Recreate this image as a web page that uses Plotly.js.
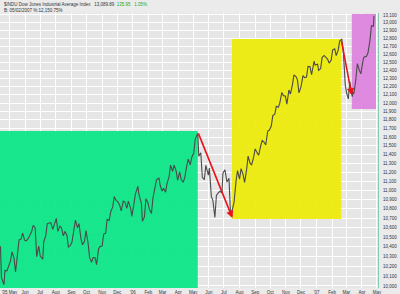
<!DOCTYPE html>
<html>
<head>
<meta charset="utf-8">
<script src="https://cdn.plot.ly/plotly-3.0.1.min.js"></script>
<style>html,body{margin:0;padding:0;background:#ebebeb;}#chart{width:400px;height:294px;}</style>
</head>
<body>
<div id="chart"></div>
<script>
// Dow Jones Industrial Average, approximate closes
const dates = [
 '2005-04-13','2005-04-15','2005-04-20','2005-04-22','2005-04-26','2005-04-29',
 '2005-05-03','2005-05-06','2005-05-10','2005-05-13','2005-05-17','2005-05-20','2005-05-24','2005-05-27','2005-05-31',
 '2005-06-03','2005-06-07','2005-06-10','2005-06-14','2005-06-17','2005-06-21','2005-06-24','2005-06-28',
 '2005-07-01','2005-07-06','2005-07-08','2005-07-12','2005-07-15','2005-07-19','2005-07-22','2005-07-26','2005-07-29',
 '2005-08-02','2005-08-05','2005-08-09','2005-08-12','2005-08-16','2005-08-19','2005-08-23','2005-08-26','2005-08-30',
 '2005-09-02','2005-09-07','2005-09-09','2005-09-13','2005-09-16','2005-09-20','2005-09-23','2005-09-27','2005-09-30',
 '2005-10-04','2005-10-07','2005-10-11','2005-10-14','2005-10-18','2005-10-21','2005-10-25','2005-10-28',
 '2005-11-01','2005-11-04','2005-11-08','2005-11-11','2005-11-15','2005-11-18','2005-11-22','2005-11-25','2005-11-29',
 '2005-12-02','2005-12-06','2005-12-09','2005-12-13','2005-12-16','2005-12-20','2005-12-23','2005-12-28','2005-12-30',
 '2006-01-03','2006-01-06','2006-01-11','2006-01-13','2006-01-18','2006-01-20','2006-01-24','2006-01-27','2006-01-31',
 '2006-02-03','2006-02-07','2006-02-10','2006-02-14','2006-02-17','2006-02-22','2006-02-24','2006-02-28',
 '2006-03-03','2006-03-07','2006-03-10','2006-03-14','2006-03-17','2006-03-21','2006-03-24','2006-03-28','2006-03-31',
 '2006-04-04','2006-04-07','2006-04-11','2006-04-14','2006-04-18','2006-04-21','2006-04-25','2006-04-28',
 '2006-05-02','2006-05-05','2006-05-10','2006-05-12','2006-05-16','2006-05-19','2006-05-23','2006-05-26','2006-05-31',
 '2006-06-02','2006-06-06','2006-06-09','2006-06-13','2006-06-16','2006-06-20','2006-06-23','2006-06-27','2006-06-29',
 '2006-07-03','2006-07-07','2006-07-11','2006-07-14','2006-07-18','2006-07-21','2006-07-25','2006-07-28',
 '2006-08-01','2006-08-04','2006-08-08','2006-08-11','2006-08-15','2006-08-18','2006-08-22','2006-08-25','2006-08-29',
 '2006-09-01','2006-09-06','2006-09-08','2006-09-12','2006-09-15','2006-09-19','2006-09-22','2006-09-26','2006-09-29',
 '2006-10-03','2006-10-06','2006-10-10','2006-10-13','2006-10-17','2006-10-20','2006-10-24','2006-10-27','2006-10-31',
 '2006-11-03','2006-11-07','2006-11-10','2006-11-14','2006-11-17','2006-11-21','2006-11-24','2006-11-27',
 '2006-12-01','2006-12-05','2006-12-08','2006-12-12','2006-12-15','2006-12-19','2006-12-22','2006-12-27','2006-12-29',
 '2007-01-03','2007-01-05','2007-01-09','2007-01-12','2007-01-16','2007-01-19','2007-01-23','2007-01-26','2007-01-30',
 '2007-02-02','2007-02-06','2007-02-09','2007-02-13','2007-02-16','2007-02-20','2007-02-23','2007-02-27',
 '2007-03-02','2007-03-05','2007-03-08','2007-03-13','2007-03-14','2007-03-16','2007-03-20','2007-03-23','2007-03-27','2007-03-30',
 '2007-04-03','2007-04-05','2007-04-10','2007-04-13','2007-04-17','2007-04-20','2007-04-24','2007-04-25'
];
const closes = [
 10403,10087,10012,10157,10152,10192,
 10256,10345,10281,10140,10332,10471,10479,10542,10467,
 10460,10483,10512,10557,10623,10596,10297,10406,
 10303,10270,10449,10513,10640,10646,10652,10580,10641,
 10697,10559,10615,10600,10513,10560,10519,10397,10412,
 10447,10595,10679,10597,10641,10481,10419,10456,10568,
 10441,10292,10238,10287,10285,10215,10378,10403,
 10406,10530,10540,10686,10675,10766,10820,10931,10888,
 10877,10835,10778,10883,10875,10805,10883,10796,10718,
 10847,10959,11043,10959,10855,10667,10713,10907,10865,
 10793,10749,10919,11029,11115,11137,11061,10993,
 11022,10980,11076,11151,11279,11210,11280,11215,11109,
 11204,11120,11089,11137,11268,11347,11283,11367,
 11416,11577,11642,11380,11419,11144,11118,11278,11168,
 11247,10931,10891,10706,10943,10974,10990,10973,11190,
 11228,11091,11134,10739,10799,10868,11103,11219,
 11125,11240,11173,11088,11230,11381,11299,11284,11370,
 11464,11406,11392,11498,11560,11540,11508,11670,11679,
 11727,11850,11867,11961,11950,12002,12127,12090,12081,
 11986,12156,12108,12218,12342,12321,12280,12121,
 12194,12331,12307,12315,12445,12441,12343,12510,12463,
 12474,12398,12416,12556,12582,12565,12533,12487,12524,
 12654,12666,12580,12652,12767,12786,12647,12216,
 12114,12050,12260,12075,12133,12111,12288,12481,12397,12354,
 12510,12560,12573,12613,12773,12961,12953,13090
];

// axis ticks
const monthTicks = ['2005-05-01','2005-06-01','2005-07-01','2005-08-01','2005-09-01','2005-10-01','2005-11-01','2005-12-01',
 '2006-01-01','2006-02-01','2006-03-01','2006-04-01','2006-05-01','2006-06-01','2006-07-01','2006-08-01','2006-09-01',
 '2006-10-01','2006-11-01','2006-12-01','2007-01-01','2007-02-01','2007-03-01','2007-04-01','2007-05-01'];
const monthLabels = ["'05 May",'Jun','Jul','Aug','Sep','Oct','Nov','Dec',"'06",'Feb','Mar','Apr','May','Jun','Jul','Aug','Sep',
 'Oct','Nov','Dec',"'07",'Feb','Mar','Apr','May'];
const priceTicks = [10000,10100,10200,10300,10400,10500,10600,10700,10800,10900,11000,11100,11200,11300,11400,11500,
 11600,11700,11800,11900,12000,12100,12200,12300,12400,12500,12600,12700,12800,12900,13000,13100];

// highlighted periods
const boxStart = ['2005-04-01','2006-07-17','2007-03-12'];
const boxEnd   = ['2006-05-10','2007-02-19','2007-04-29'];
const boxLow   = [9900,10690,11930];
const boxHigh  = [11670,12790,13113];
const boxColor = ['#00e683','#ecea00','#dc7edc'];

// arrows: moves from peak to trough
const arrowFromDate = ['2006-05-10','2007-02-19'];
const arrowFromVal  = [11660,12780];
const arrowToDate   = ['2006-07-18','2007-03-12'];
const arrowToVal    = [10700,12090];

const L = Math.log10;
const shapes = boxStart.map((s,i)=>({
  type:'rect', xref:'x', yref:'y', x0:s, x1:boxEnd[i], y0:boxLow[i], y1:boxHigh[i],
  fillcolor:boxColor[i], opacity:0.9, line:{width:0}, layer:'between'
}));

const annotations = arrowFromDate.map((d,i)=>({
  xref:'x', yref:'y', axref:'x', ayref:'y',
  x:arrowToDate[i], y:L(arrowToVal[i]), ax:d, ay:L(arrowFromVal[i]),
  showarrow:true, arrowhead:2, arrowsize:0.9, arrowwidth:1.6, arrowcolor:'#e8141c', text:''
}));
annotations.push({
  xref:'paper', yref:'paper', x:0.005, y:1.03, xanchor:'left', yanchor:'middle', showarrow:false,
  text:"$INDU Dow Jones Industrial Average Index   13,089.89  <span style='color:#1aa81a'>135.95   1.05%</span>",
  font:{family:'Liberation Sans, Arial, sans-serif', size:4.5, color:'#333'}
});
annotations.push({
  xref:'paper', yref:'paper', x:0.005, y:1.008, xanchor:'left', yanchor:'middle', showarrow:false,
  text:"B: 05/02/2007 %:12,150.75%",
  font:{family:'Liberation Sans, Arial, sans-serif', size:4.5, color:'#333'}
});

const trace = {
  x: dates, y: closes, type:'scatter', mode:'lines',
  line:{color:'#4a4a4a', width:1.1}, hoverinfo:'skip'
};

const layout = {
  width:400, height:294,
  margin:{l:0, r:22, t:13, b:6},
  paper_bgcolor:'#ebebeb', plot_bgcolor:'#e6e6e6',
  showlegend:false,
  xaxis:{
    type:'date', range:['2005-04-12 03:00','2007-05-03'],
    tickmode:'array', tickvals:monthTicks, ticktext:monthLabels,
    showgrid:true, gridcolor:'#ffffff', gridwidth:1, zeroline:false, showline:false,
    ticks:'', ticklabelstandoff:0,
    tickfont:{family:'Liberation Sans, Arial, sans-serif', size:4.5, color:'#333'}
  },
  yaxis:{
    type:'log', side:'right', range:[L(9980), L(13126)],
    tickmode:'array', tickvals:priceTicks, tickformat:',d',
    showgrid:true, gridcolor:'#ffffff', gridwidth:1, zeroline:false,
    showline:true, linecolor:'#8cc8b6', linewidth:1,
    ticks:'', ticklabelstandoff:3,
    tickfont:{family:'Liberation Sans, Arial, sans-serif', size:4.5, color:'#333'}
  },
  shapes:shapes,
  annotations:annotations
};

Plotly.newPlot('chart',[trace],layout,{displayModeBar:false, staticPlot:true});
</script>
</body>
</html>
